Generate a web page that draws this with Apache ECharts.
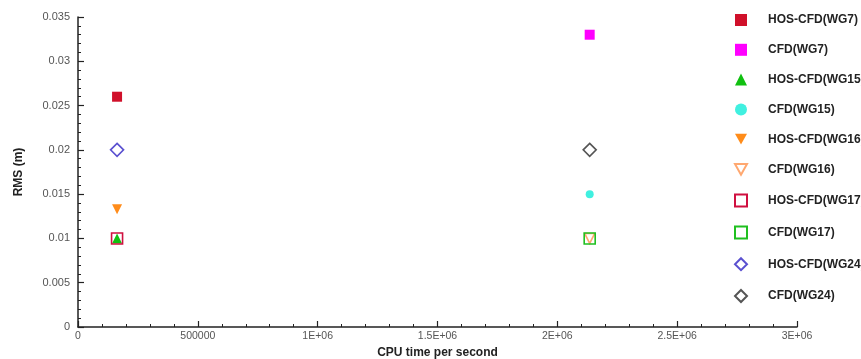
<!DOCTYPE html>
<html>
<head>
<meta charset="utf-8">
<script src="https://cdn.jsdelivr.net/npm/echarts@6/dist/echarts.min.js"></script>
<style>
  html, body { margin: 0; padding: 0; background: #fff; }
  #chart { width: 861px; height: 359px; }
</style>
</head>
<body>
<div id="chart"></div>
<script>
// series names, x (CPU time) and y (RMS) values
var seriesNames = ['HOS-CFD(WG7)', 'CFD(WG7)', 'HOS-CFD(WG15)', 'CFD(WG15)', 'HOS-CFD(WG16)',
                   'CFD(WG16)', 'HOS-CFD(WG17)', 'CFD(WG17)', 'HOS-CFD(WG24)', 'CFD(WG24)'];
var cpuTime = [163000, 2135000, 163000, 2135000, 163000, 2135000, 163000, 2135000, 163000, 2135000];
var rms = [0.026, 0.033, 0.01, 0.015, 0.0133, 0.01, 0.01, 0.01, 0.02, 0.02];

// downward triangle
var triDown = 'path://M0,0 L10,0 L5,9 Z';

// marker look per series
var markers = [
    { symbol: 'rect', size: 10, fill: '#d0102a', border: null },
    { symbol: 'rect', size: 10, fill: '#ff00ff', border: null },
    { symbol: 'triangle', size: 10, fill: '#10c010', border: null },
    { symbol: 'circle', size: 8, fill: '#40f0e0', border: null },
    { symbol: triDown, size: 10, fill: '#ff8c1a', border: null },
    { symbol: triDown, size: 10, fill: 'rgba(0,0,0,0)', border: '#ffa870' },
    { symbol: 'rect', size: 11, fill: 'rgba(0,0,0,0)', border: '#d01040' },
    { symbol: 'rect', size: 11, fill: 'rgba(0,0,0,0)', border: '#20c020' },
    { symbol: 'diamond', size: 13, fill: 'rgba(0,0,0,0)', border: '#5a50d0' },
    { symbol: 'diamond', size: 13, fill: 'rgba(0,0,0,0)', border: '#555555' }
];

function fmtX(v) {
    if (v === 0) return '0';
    if (v < 1e6) return String(v);
    return (v / 1e6) + 'E+06';
}

var chart = echarts.init(document.getElementById('chart'));

var series = seriesNames.map(function (name, i) {
    var m = markers[i];
    return {
        name: name,
        type: 'scatter',
        symbol: m.symbol,
        symbolSize: m.size,
        itemStyle: {
            opacity: 1,
            color: m.fill,
            borderColor: m.border || m.fill,
            borderWidth: m.border ? 1.6 : 0
        },
        data: [[cpuTime[i], rms[i]]]
    };
});

chart.setOption({
    animation: false,
    backgroundColor: '#fff',
    textStyle: { fontFamily: 'Liberation Sans, Arial, sans-serif' },
    grid: { left: 78, right: 64, top: 17, bottom: 32, outerBoundsMode: 'none', containLabel: false },
    legend: {
        orient: 'vertical',
        left: 729,
        top: 9,
        itemWidth: 12,
        itemHeight: 12,
        itemGap: 17.8,
        textStyle: { fontSize: 12, lineHeight: 12, fontWeight: 'bold', color: '#222', padding: [0, 0, 0, 16] },
        data: seriesNames
    },
    xAxis: {
        type: 'value',
        min: 0,
        max: 3000000,
        interval: 500000,
        name: 'CPU time per second',
        nameLocation: 'middle',
        nameGap: 17,
        nameTextStyle: { fontSize: 12, fontWeight: 'bold', color: '#222' },
        splitLine: { show: false },
        axisLine: { lineStyle: { color: '#222', width: 1.5 } },
        axisTick: { inside: true, length: 6, lineStyle: { color: '#222', width: 1.2 } },
        minorTick: { show: true, splitNumber: 5, length: 3, lineStyle: { color: '#222' } },
        axisLabel: { fontSize: 10.5, color: '#555', margin: 4, formatter: fmtX }
    },
    yAxis: {
        type: 'value',
        min: 0,
        max: 0.035,
        interval: 0.005,
        name: 'RMS (m)',
        nameLocation: 'middle',
        nameGap: 53,
        nameTextStyle: { fontSize: 12, fontWeight: 'bold', color: '#222' },
        splitLine: { show: false },
        axisLine: { show: true, lineStyle: { color: '#222', width: 1.5 } },
        axisTick: { show: true, inside: true, length: 6, lineStyle: { color: '#222', width: 1.2 } },
        minorTick: { show: true, splitNumber: 5, length: 3, lineStyle: { color: '#222' } },
        axisLabel: { fontSize: 11, color: '#555', margin: 8 }
    },
    series: series
});
</script>
</body>
</html>
